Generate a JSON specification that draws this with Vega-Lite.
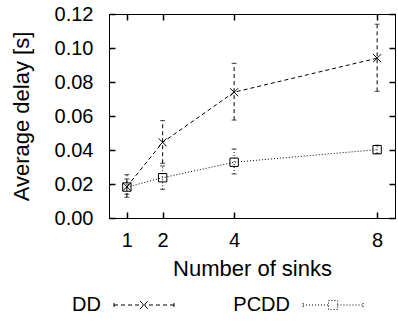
{
  "$schema": "https://vega.github.io/schema/vega-lite/v6.json",
  "width": 286,
  "height": 204,
  "autosize": {"type": "none"},
  "padding": {"left": 109, "top": 14, "right": 3, "bottom": 109},
  "config": {
    "font": "Liberation Sans",
    "view": {"stroke": "black", "strokeWidth": 1},
    "axis": {
      "domainColor": "black", "domainWidth": 1,
      "tickColor": "black", "tickSize": -6, "tickWidth": 1.5,
      "labelColor": "black", "titleColor": "black",
      "grid": false,
      "labelFont": "Liberation Sans", "labelFontSize": 20,
      "titleFont": "Liberation Sans", "titleFontSize": 22, "titleFontWeight": "normal"
    },
    "legend": {"labelFont": "Liberation Sans", "labelFontSize": 20, "labelColor": "black"}
  },
  "data": {
    "values": [
      {"sinks": 1, "series": "DD", "delay": 0.0184, "lo": 0.0122, "hi": 0.0255},
      {"sinks": 2, "series": "DD", "delay": 0.0445, "lo": 0.0322, "hi": 0.0573},
      {"sinks": 4, "series": "DD", "delay": 0.0740, "lo": 0.0576, "hi": 0.0910},
      {"sinks": 8, "series": "DD", "delay": 0.0940, "lo": 0.0745, "hi": 0.1140},
      {"sinks": 1, "series": "PCDD", "delay": 0.0182, "lo": 0.0140, "hi": 0.0230},
      {"sinks": 2, "series": "PCDD", "delay": 0.0237, "lo": 0.0169, "hi": 0.0306},
      {"sinks": 4, "series": "PCDD", "delay": 0.0328, "lo": 0.0259, "hi": 0.0406},
      {"sinks": 8, "series": "PCDD", "delay": 0.0402, "lo": 0.0380, "hi": 0.0428}
    ]
  },
  "layer": [
    {
      "mark": {"type": "rule", "color": "black", "strokeWidth": 1},
      "encoding": {
        "x": {"field": "sinks", "type": "quantitative",
              "scale": {"domain": [0.5, 8.5], "nice": false, "zero": false},
              "axis": {"orient": "bottom", "values": [1, 2, 4, 8], "format": "d", "title": "Number of sinks", "labelPadding": 18, "titlePadding": 8}},
        "y": {"field": "lo", "type": "quantitative",
              "scale": {"domain": [0, 0.12], "nice": false, "zero": true},
              "axis": {"orient": "left", "values": [0, 0.02, 0.04, 0.06, 0.08, 0.1, 0.12], "format": ".2f", "title": "Average delay [s]", "labelPadding": 22, "titlePadding": 21}},
        "y2": {"field": "hi"},
        "strokeDash": {"field": "series", "type": "nominal",
              "scale": {"domain": ["DD", "PCDD"], "range": [[4, 3], [1, 2]]},
              "legend": {
                "title": null, "orient": "none", "legendX": 25, "legendY": 281,
                "direction": "horizontal",
                "symbolSize": 100, "symbolStrokeColor": "black", "symbolFillColor": "transparent", "symbolStrokeWidth": 1,
                "labelAlign": "right", "labelOffset": -53, "columnPadding": 57,
                "encode": {"symbols": {"update": {"shape": {"signal": "datum.value === 'DD' ? 'M-6,0H6M-6,-0.4V0.4M6,-0.4V0.4M-0.8,-0.8L0.8,0.8M-0.8,0.8L0.8,-0.8' : 'M-6,0H-0.9M0.9,0H6M-6,-0.4V0.4M6,-0.4V0.4M-0.9,-0.9H0.9V0.9H-0.9Z'"}}}}
              }}
      }
    },
    {
      "mark": {"type": "tick", "orient": "horizontal", "color": "black", "size": 5, "thickness": 1},
      "encoding": {
        "x": {"field": "sinks", "type": "quantitative", "axis": null},
        "y": {"field": "lo", "type": "quantitative", "axis": null}
      }
    },
    {
      "mark": {"type": "tick", "orient": "horizontal", "color": "black", "size": 5, "thickness": 1},
      "encoding": {
        "x": {"field": "sinks", "type": "quantitative", "axis": null},
        "y": {"field": "hi", "type": "quantitative", "axis": null}
      }
    },
    {
      "mark": {"type": "line", "color": "black", "strokeWidth": 1},
      "encoding": {
        "x": {"field": "sinks", "type": "quantitative", "axis": null},
        "y": {"field": "delay", "type": "quantitative", "axis": null},
        "strokeDash": {"field": "series", "type": "nominal"}
      }
    },
    {
      "transform": [{"filter": "datum.series === 'DD'"}],
      "mark": {"type": "point", "filled": false, "color": "black", "strokeWidth": 1, "opacity": 1, "shape": "M-1,-1L1,1M-1,1L1,-1", "size": 64},
      "encoding": {
        "x": {"field": "sinks", "type": "quantitative", "axis": null},
        "y": {"field": "delay", "type": "quantitative", "axis": null}
      }
    },
    {
      "transform": [{"filter": "datum.series === 'PCDD'"}],
      "mark": {"type": "point", "filled": false, "color": "black", "strokeWidth": 1, "opacity": 1, "shape": "square", "size": 70},
      "encoding": {
        "x": {"field": "sinks", "type": "quantitative", "axis": null},
        "y": {"field": "delay", "type": "quantitative", "axis": null}
      }
    },
    {
      "mark": {"type": "point", "opacity": 0},
      "encoding": {
        "x": {"field": "sinks", "type": "quantitative",
              "axis": {"orient": "top", "values": [1, 2, 4, 8], "labels": false, "title": null}},
        "y": {"field": "delay", "type": "quantitative",
              "axis": {"orient": "right", "values": [0, 0.02, 0.04, 0.06, 0.08, 0.1, 0.12], "labels": false, "title": null}}
      }
    }
  ],
  "resolve": {"axis": {"x": "independent", "y": "independent"}}
}
